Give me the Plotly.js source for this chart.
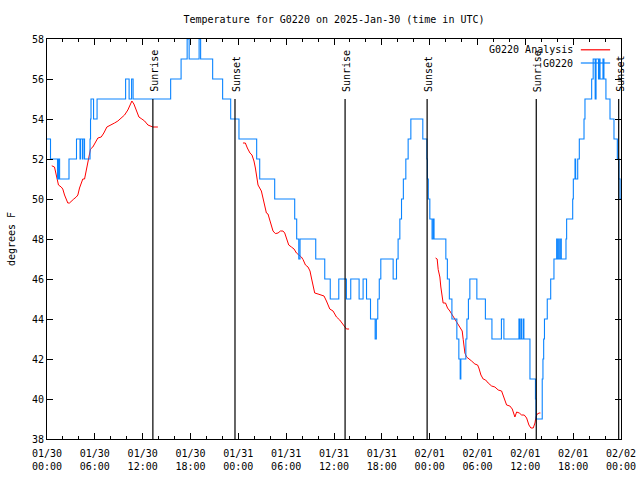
<!DOCTYPE html>
<html>
<head>
<meta charset="utf-8">
<script src="https://cdn.plot.ly/plotly-3.0.1.min.js"></script>
<style>html,body{margin:0;padding:0;background:#fff;}#chart{width:640px;height:480px;}</style>
</head>
<body>
<div id="chart"></div>
<script>
// hours since 2025-01-30 00:00 UTC
const stationHours = [0,0.44,1.32,1.45,1.58,2.76,3.70,4.14,4.22,4.46,4.52,4.71,5.40,5.46,5.52,5.84,6.28,9.86,10.30,10.61,10.80,15.51,16.82,17.58,17.83,19.08,19.27,20.78,22.03,23.04,24.08,26.30,26.68,28.56,31.07,31.32,31.58,31.74,33.71,34.84,35.53,36.60,37.56,38.10,39.15,39.65,40.08,40.58,41.16,41.31,41.49,41.68,41.87,43.42,43.84,44.04,44.26,44.47,44.70,45.01,45.30,45.64,47.14,47.65,47.71,47.83,48.02,48.30,48.45,48.55,50.03,50.22,50.47,50.79,51.41,51.66,51.83,51.91,52.54,52.67,52.86,53.04,53.92,54.99,55.81,57.00,57.31,59.20,59.28,59.45,59.53,59.74,59.82,60.58,61.27,61.33,62.12,62.21,62.30,62.40,62.75,63.18,63.59,63.93,64.02,64.18,64.26,64.43,64.51,65.10,65.18,65.94,66.02,66.23,66.31,66.57,66.77,67.36,67.48,68.32,68.51,68.76,68.87,69.18,69.30,69.37,69.74,69.86,70.11,70.62,71.12,71.54,71.75,71.88,72.0];
const stationTemp = [53,52,51,52,51,52,53,52,53,52,53,52,53,54,55,54,55,56,55,56,55,56,57,58,57,58,57,56,55,54,53,52,51,50,49,48,47,48,47,46,45,46,45,46,45,46,45,44,43,44,45,46,47,46,47,48,49,50,51,52,53,54,53,52,51,50,49,48,49,48,47,46,45,44,43,42,41,42,43,44,45,46,45,44,43,44,43,44,43,44,43,44,43,41,40,39,41,42,43,44,45,46,47,48,47,48,47,48,47,48,49,50,51,52,51,52,53,54,55,56,57,55,57,56,57,56,57,56,55,54,53,52,51,50,50];

const analysisHours = [
 0.60,0.94,1.16,1.44,1.78,1.98,2.20,2.41,2.61,2.82,3.04,3.36,3.67,3.87,4.08,4.29,4.49,4.71,4.92,5.12,5.25,5.46,5.75,6.18,6.38,6.80,7.13,7.51,8.06,8.47,8.89,9.39,9.73,10.14,10.65,10.90,11.20,11.53,11.90,12.24,12.66,13.08,13.28,13.91,
 null,
 24.58,24.88,25.13,25.30,25.46,25.71,25.96,26.14,26.30,26.47,26.68,26.89,27.09,27.31,27.52,27.72,27.94,28.15,28.35,28.65,28.98,29.28,29.60,29.82,30.03,30.32,30.66,30.99,31.29,31.61,31.91,32.12,32.42,32.74,32.99,33.17,33.37,33.58,34.00,34.34,34.75,35.05,35.25,35.47,35.88,36.31,36.72,37.14,37.35,37.56,37.89,
 null,
 48.74,48.94,49.07,49.28,49.40,49.57,49.69,49.99,50.24,50.53,50.82,51.16,51.50,51.79,52.08,52.21,52.33,52.42,52.63,52.83,53.26,53.67,54.01,54.17,54.43,54.71,55.02,55.34,55.77,56.18,56.60,57.02,57.22,57.44,57.65,58.06,58.36,58.69,58.91,59.24,59.54,59.86,60.16,60.45,60.70,60.99,61.21,61.33,61.49,61.74,61.89];
const analysisTemp = [
 51.66,51.6,51.2,50.7,50.6,50.5,50.2,50.0,49.8,49.8,49.9,50.0,50.1,50.2,50.55,50.8,51.0,51.0,51.4,51.9,52.1,52.5,52.6,52.9,53.05,53.1,53.3,53.6,53.7,53.8,53.9,54.1,54.2,54.45,54.9,54.75,54.4,54.1,54.0,53.9,53.7,53.65,53.6,53.6,
 null,
 52.8,52.8,52.55,52.4,52.3,52.2,51.9,51.55,51.1,50.7,50.55,50.4,50.05,49.6,49.3,49.25,48.97,48.6,48.4,48.27,48.3,48.4,48.4,48.3,48.05,47.7,47.6,47.5,47.3,47.2,47.1,46.97,46.7,46.6,46.4,46.05,45.6,45.3,45.25,45.2,45.15,44.9,44.7,44.5,44.4,44.1,43.95,43.75,43.6,43.5,43.5,
 null,
 47.05,47.0,46.47,46.1,45.6,45.1,44.8,44.8,44.55,44.4,44.2,43.96,43.8,43.6,43.4,42.97,42.6,42.3,42.1,42.05,41.9,41.75,41.7,41.55,41.2,41.0,40.95,40.8,40.65,40.6,40.45,40.4,40.2,39.9,39.7,39.65,39.5,39.1,39.35,39.3,39.2,39.2,39.05,38.7,38.55,38.55,38.8,39.1,39.25,39.3,39.3];

const sunHours = [13.28, 23.58, 37.39, 47.68, 61.37, 71.71];
const sunLabels = ['Sunrise','Sunset','Sunrise','Sunset','Sunrise','Sunset'];
const sunLineTop = 55;

const seriesNames = ['G0220 Analysis', 'G0220'];
const seriesColors = ['#ff0000', '#0a84ff'];

const T0 = Date.UTC(2025, 0, 30);
function toDate(h) {
  if (h === null) return null;
  return new Date(T0 + h * 3600000).toISOString().slice(0, 19).replace('T', ' ');
}

const FONT = 'DejaVu Sans Mono, Liberation Mono, monospace';

const traces = [
  {x: analysisHours.map(toDate), y: analysisTemp, type: 'scatter', mode: 'lines',
   name: seriesNames[0], line: {color: seriesColors[0], width: 1}, connectgaps: false},
  {x: stationHours.map(toDate), y: stationTemp, type: 'scatter', mode: 'lines',
   name: seriesNames[1], line: {color: seriesColors[1], width: 1.1, shape: 'hv'}}
];

const shapes = sunHours.map(h => ({type: 'line', xref: 'x', yref: 'y', x0: toDate(h), x1: toDate(h),
  y0: 38, y1: sunLineTop, line: {color: '#000', width: 1.2}, layer: 'above'}));
const annotations = sunHours.map((h, i) => ({x: toDate(h), y: sunLineTop, xref: 'x', yref: 'y',
  text: sunLabels[i], showarrow: false, textangle: -90, yanchor: 'bottom', xanchor: 'center',
  yshift: 5, xshift: 1, font: {family: FONT, size: 10, color: '#000'}}));

// gnuplot-style key (text then sample line)
const keyY = [0.973, 0.940];
seriesNames.forEach((n, i) => {
  annotations.push({xref: 'paper', yref: 'paper', x: 0.919, y: keyY[i], text: n, showarrow: false,
    xanchor: 'right', yanchor: 'middle', font: {family: FONT, size: 10, color: '#000'}});
  shapes.push({type: 'line', xref: 'paper', yref: 'paper', x0: 0.930, x1: 0.981, y0: keyY[i], y1: keyY[i],
    line: {color: seriesColors[i], width: 1.2}});
});

const layout = {
  width: 640, height: 480,
  margin: {l: 47, r: 19, t: 39, b: 41},
  paper_bgcolor: '#fff', plot_bgcolor: '#fff',
  showlegend: false,
  font: {family: FONT, size: 10, color: '#000'},
  title: {text: 'Temperature for G0220 on 2025-Jan-30 (time in UTC)', x: 0.5, xref: 'paper',
    y: 0.96, yref: 'container', yanchor: 'middle', font: {family: FONT, size: 10, color: '#000'}},
  xaxis: {type: 'date', range: [toDate(0), toDate(72)], tick0: toDate(0), dtick: 6 * 3600000,
    tickformat: '%m/%d<br>%H:%M', ticks: 'inside', ticklen: 6, tickcolor: '#000', ticklabelstandoff: 5,
    minor: {dtick: 2 * 3600000, ticks: 'inside', ticklen: 3, tickcolor: '#000'},
    showline: true, linecolor: '#000', linewidth: 1, mirror: 'ticks', showgrid: false, zeroline: false,
    tickfont: {family: FONT, size: 10, color: '#000'}, automargin: false},
  yaxis: {range: [38, 58], dtick: 2, tick0: 38, ticks: 'inside', ticklen: 6, tickcolor: '#000',
    showline: true, linecolor: '#000', linewidth: 1, mirror: 'ticks', showgrid: false, zeroline: false,
    tickfont: {family: FONT, size: 10, color: '#000'}, automargin: false,
    title: {text: 'degrees F', font: {family: FONT, size: 10, color: '#000'}, standoff: 14}},
  shapes: shapes,
  annotations: annotations
};

Plotly.newPlot('chart', traces, layout, {displayModeBar: false, staticPlot: true});
</script>
</body>
</html>
